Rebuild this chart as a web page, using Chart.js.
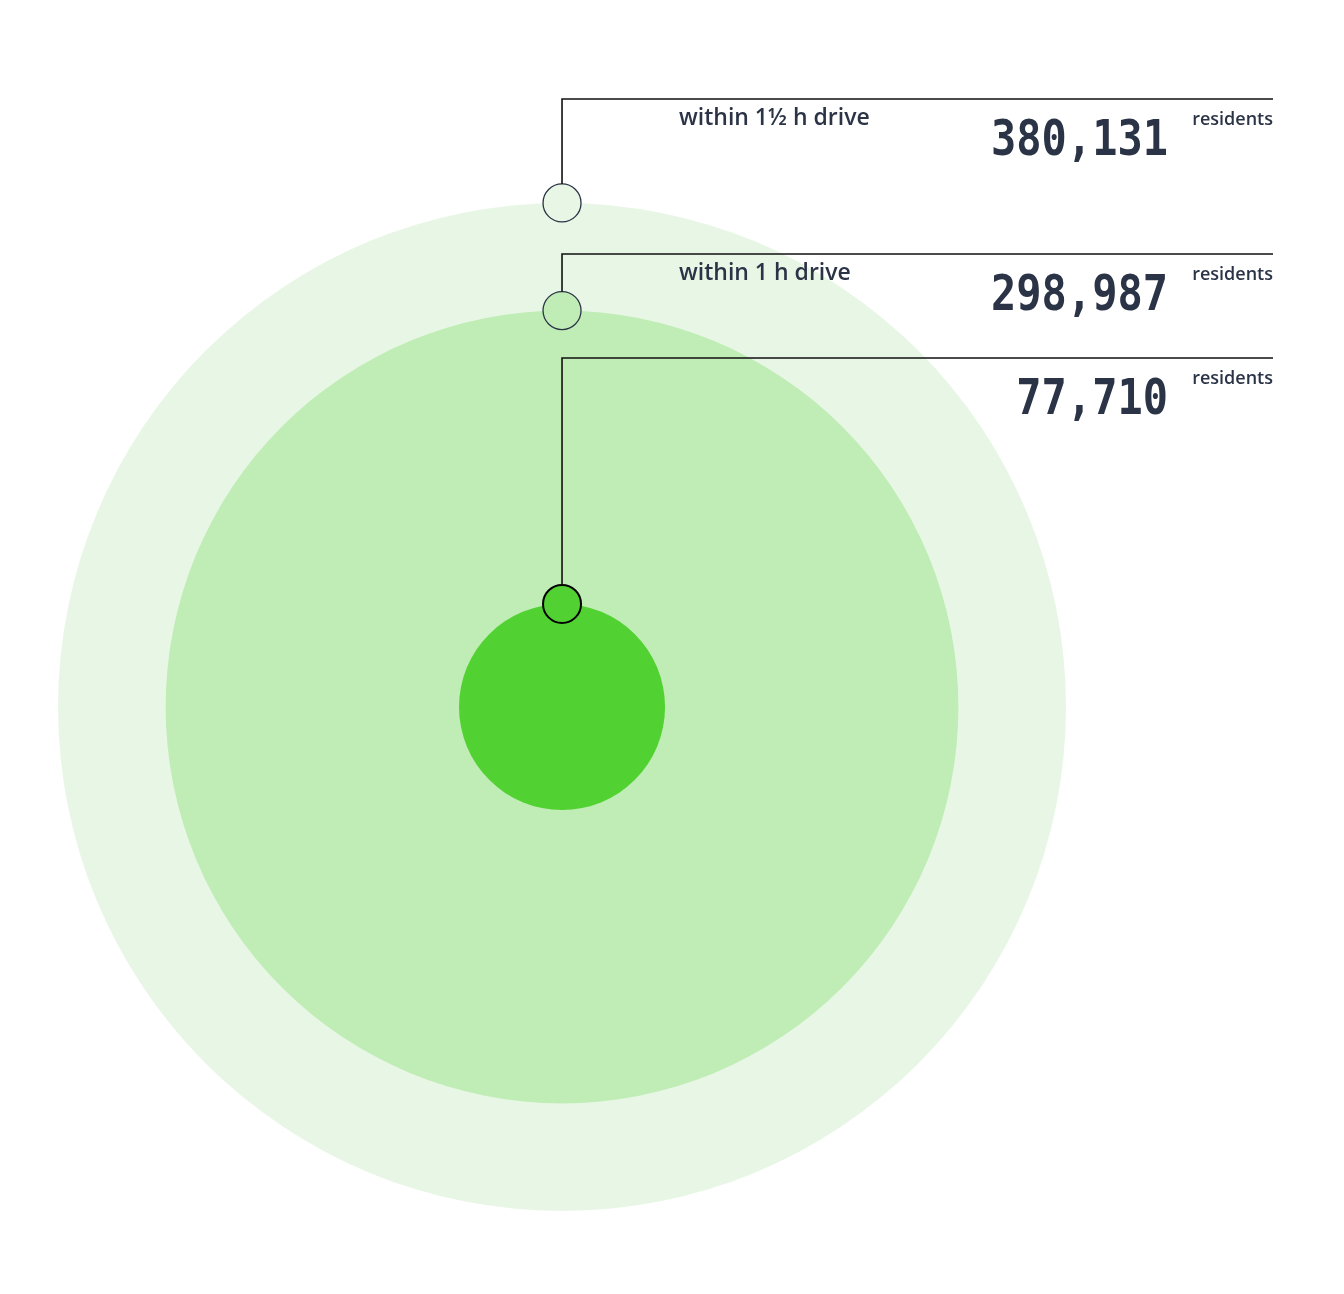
<!DOCTYPE html>
<html>
<head>
<meta charset="utf-8">
<script src="https://cdn.jsdelivr.net/npm/chart.js@4/dist/chart.umd.min.js"></script>
<style>
  html, body { margin: 0; padding: 0; background: #ffffff; overflow: hidden; }
  #wrap { width: 1344px; height: 1294px; position: relative; }
  canvas { display: block; }
</style>
</head>
<body>
<div id="wrap"><canvas id="c"></canvas></div>
<script>
// ---- data ----
const zoneLabels = ['within 1½ h drive', 'within 1 h drive', ''];
const residents = [380131, 298987, 77710];
const unitLabel = 'residents';

// ---- styles ----
const circleColors = ['#e8f7e5', '#c0edb6', '#52d232'];
const markerBorders = ['#2b3446', '#2b3446', '#000000'];
const textColor = '#2b3446';

const leaderY = [99, 254, 358];   // pixel levels of leader rows
const leaderRight = 1273;
const labelX = 679;
const numberRight = 1168;
const markerR = 19;

function radiusFor(chart, v) {
  const sx = chart.scales.x;
  return Math.abs(sx.getPixelForValue(v) - sx.getPixelForValue(0));
}

const circleSets = residents.map((v, i) => ({
  label: zoneLabels[i] || 'core',
  data: [{ x: 0, y: 0 }],
  backgroundColor: circleColors[i],
  borderWidth: 0,
  pointRadius: ctx => radiusFor(ctx.chart, v),
  pointHoverRadius: ctx => radiusFor(ctx.chart, v),
  clip: false,
  order: 10 - i
}));

const markerSet = {
  label: 'markers',
  data: residents.map(v => ({ x: 0, y: v })),
  backgroundColor: circleColors,
  borderColor: markerBorders,
  borderWidth: [1.3, 1.3, 2],
  pointRadius: markerR,
  clip: false,
  order: 0
};

const overlay = {
  id: 'overlay',
  afterDatasetsDraw(chart) {
    const ctx = chart.ctx;
    const sx = chart.scales.x, sy = chart.scales.y;
    residents.forEach((v, i) => {
      const px = sx.getPixelForValue(0);
      const py = sy.getPixelForValue(v);
      const ly = leaderY[i];
      ctx.save();
      ctx.strokeStyle = '#111111';
      ctx.lineWidth = 1.6;
      ctx.beginPath();
      ctx.moveTo(px, py - markerR);
      ctx.lineTo(px, ly);
      ctx.lineTo(leaderRight, ly);
      ctx.stroke();

      ctx.fillStyle = textColor;
      ctx.textBaseline = 'alphabetic';
      if (zoneLabels[i]) {
        ctx.textAlign = 'left';
        ctx.font = '600 23px "Open Sans"';
        ctx.fillText(zoneLabels[i], labelX, ly + 26);
      }
      ctx.textAlign = 'right';
      ctx.font = '600 18px "Open Sans"';
      ctx.fillText(unitLabel, leaderRight, ly + 26);

      ctx.translate(numberRight, ly + 56);
      ctx.scale(0.84, 1);
      ctx.textAlign = 'right';
      ctx.font = 'bold 50px "DejaVu Sans Mono"';
      ctx.fillText(v.toLocaleString('en-US'), 0, 0);
      ctx.restore();
    });
  }
};

new Chart(document.getElementById('c'), {
  type: 'scatter',
  data: { datasets: [...circleSets, markerSet] },
  options: {
    responsive: true,
    maintainAspectRatio: false,
    animation: false,
    layout: { padding: 0, autoPadding: false },
    plugins: { legend: { display: false }, tooltip: { enabled: false } },
    events: [],
    scales: {
      x: { type: 'linear', display: false, min: -423900, max: 589800 },
      y: { type: 'linear', display: false, min: -442700, max: 533200 }
    }
  },
  plugins: [overlay]
});
</script>
</body>
</html>
